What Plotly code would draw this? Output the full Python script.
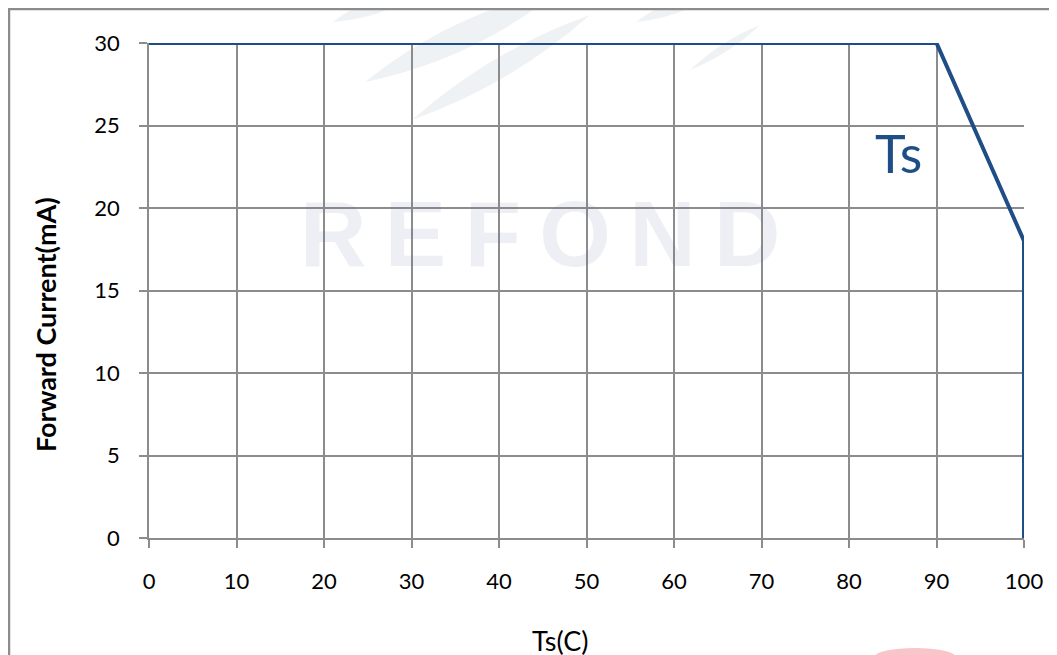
import plotly.graph_objects as go

ts = [0, 90, 100, 100]
current = [30, 30, 18, 0]
x_ticks = [0, 10, 20, 30, 40, 50, 60, 70, 80, 90, 100]
y_ticks = [0, 5, 10, 15, 20, 25, 30]
watermark_text = "R&#8201;E&#8201;F&#8201;O&#8201;N&#8201;D"

line_color = "#1f4e87"
grid_color = "#8c8c8c"

# page pixel geometry of the plot area (reference coords)
PL, PR, PT, PB = 149, 1024, 43, 538
def px(x):
    return (x - PL) / (PR - PL)
def py(y):
    return (PB - y) / (PB - PT)

fig = go.Figure()
fig.add_trace(go.Scatter(x=ts, y=current, mode="lines",
                         line=dict(color=line_color, width=4),
                         showlegend=False, hoverinfo="skip"))

fig.add_annotation(x=85.6, y=23.33, xref="x", yref="y", text="Ts", showarrow=False,
                   xanchor="center", yanchor="middle",
                   font=dict(family="Lato", size=52, color=line_color))

# faint watermark
fig.add_annotation(x=px(540), y=py(234), xref="paper", yref="paper",
                   text="<b>%s</b>" % watermark_text, showarrow=False, opacity=0.11,
                   xanchor="center", yanchor="middle",
                   font=dict(family="Liberation Sans", size=92, color="#6d7aa8"))

# faint swooshes of the watermark logo
def leaf(x0, y0, x1, y1, w):
    mx, my = (x0 + x1) / 2, (y0 + y1) / 2
    dx, dy = x1 - x0, y1 - y0
    L = (dx * dx + dy * dy) ** 0.5
    nx, ny = -dy / L * w, dx / L * w
    pts = [(x0, y0), (mx + nx, my + ny), (x1, y1), (mx - nx, my - ny)]
    p = [(px(a), py(b)) for a, b in pts]
    return "M %f,%f Q %f,%f %f,%f Q %f,%f %f,%f Z" % (p[0] + p[1] + p[2] + p[3] + p[0])

for (x0, y0, x1, y1, w) in [(333, 22, 430, -15, 16), (365, 82, 560, -10, 26),
                             (412, 120, 590, 15, 20), (636, 22, 730, -15, 14),
                             (690, 70, 760, 25, 8)]:
    fig.add_shape(type="path", xref="paper", yref="paper", path=leaf(x0, y0, x1, y1, w),
                  line=dict(width=0), fillcolor="rgba(190,205,215,0.25)", layer="below")

fig.add_shape(type="rect", xref="paper", yref="paper",
              x0=px(9), x1=1.2, y0=-0.4, y1=py(9),
              line=dict(color=grid_color, width=2.5), layer="below")
fig.add_shape(type="circle", xref="paper", yref="paper",
              x0=px(875), x1=px(955), y0=py(665), y1=py(648),
              line=dict(width=0), fillcolor="rgba(235,90,100,0.35)", layer="below")

fig.add_annotation(x=px(45), y=py(325), xref="paper", yref="paper",
                   text="<b>Forward Current(mA)</b>", textangle=-90, showarrow=False,
                   xanchor="center", yanchor="middle",
                   font=dict(family="Lato", size=27, color="black"))
fig.add_annotation(x=px(560), y=py(640), xref="paper", yref="paper",
                   text="Ts(C)", showarrow=False, xanchor="center", yanchor="middle",
                   font=dict(family="Lato", size=27, color="black"))

fig.update_xaxes(range=[0, 100], tickvals=x_ticks, showgrid=True, gridcolor=grid_color,
                 gridwidth=1.5, zeroline=False, showline=True, linecolor=grid_color,
                 linewidth=1.5, ticks="outside", ticklen=8, tickcolor=grid_color,
                 tickwidth=1.5, ticklabelstandoff=15,
                 tickfont=dict(family="Lato", size=22, color="black"))
fig.update_yaxes(range=[0, 30], tickvals=y_ticks, showgrid=True, gridcolor=grid_color,
                 gridwidth=1.5, zeroline=False, showline=True, linecolor=grid_color,
                 linewidth=1.5, ticks="outside", ticklen=8, tickcolor=grid_color,
                 tickwidth=1.5, ticklabelstandoff=15,
                 tickfont=dict(family="Lato", size=22, color="black"))

fig.update_layout(width=1057, height=655, margin=dict(l=141, r=41, t=35, b=125),
                  plot_bgcolor="white", paper_bgcolor="white")

fig.write_html("out.html")
